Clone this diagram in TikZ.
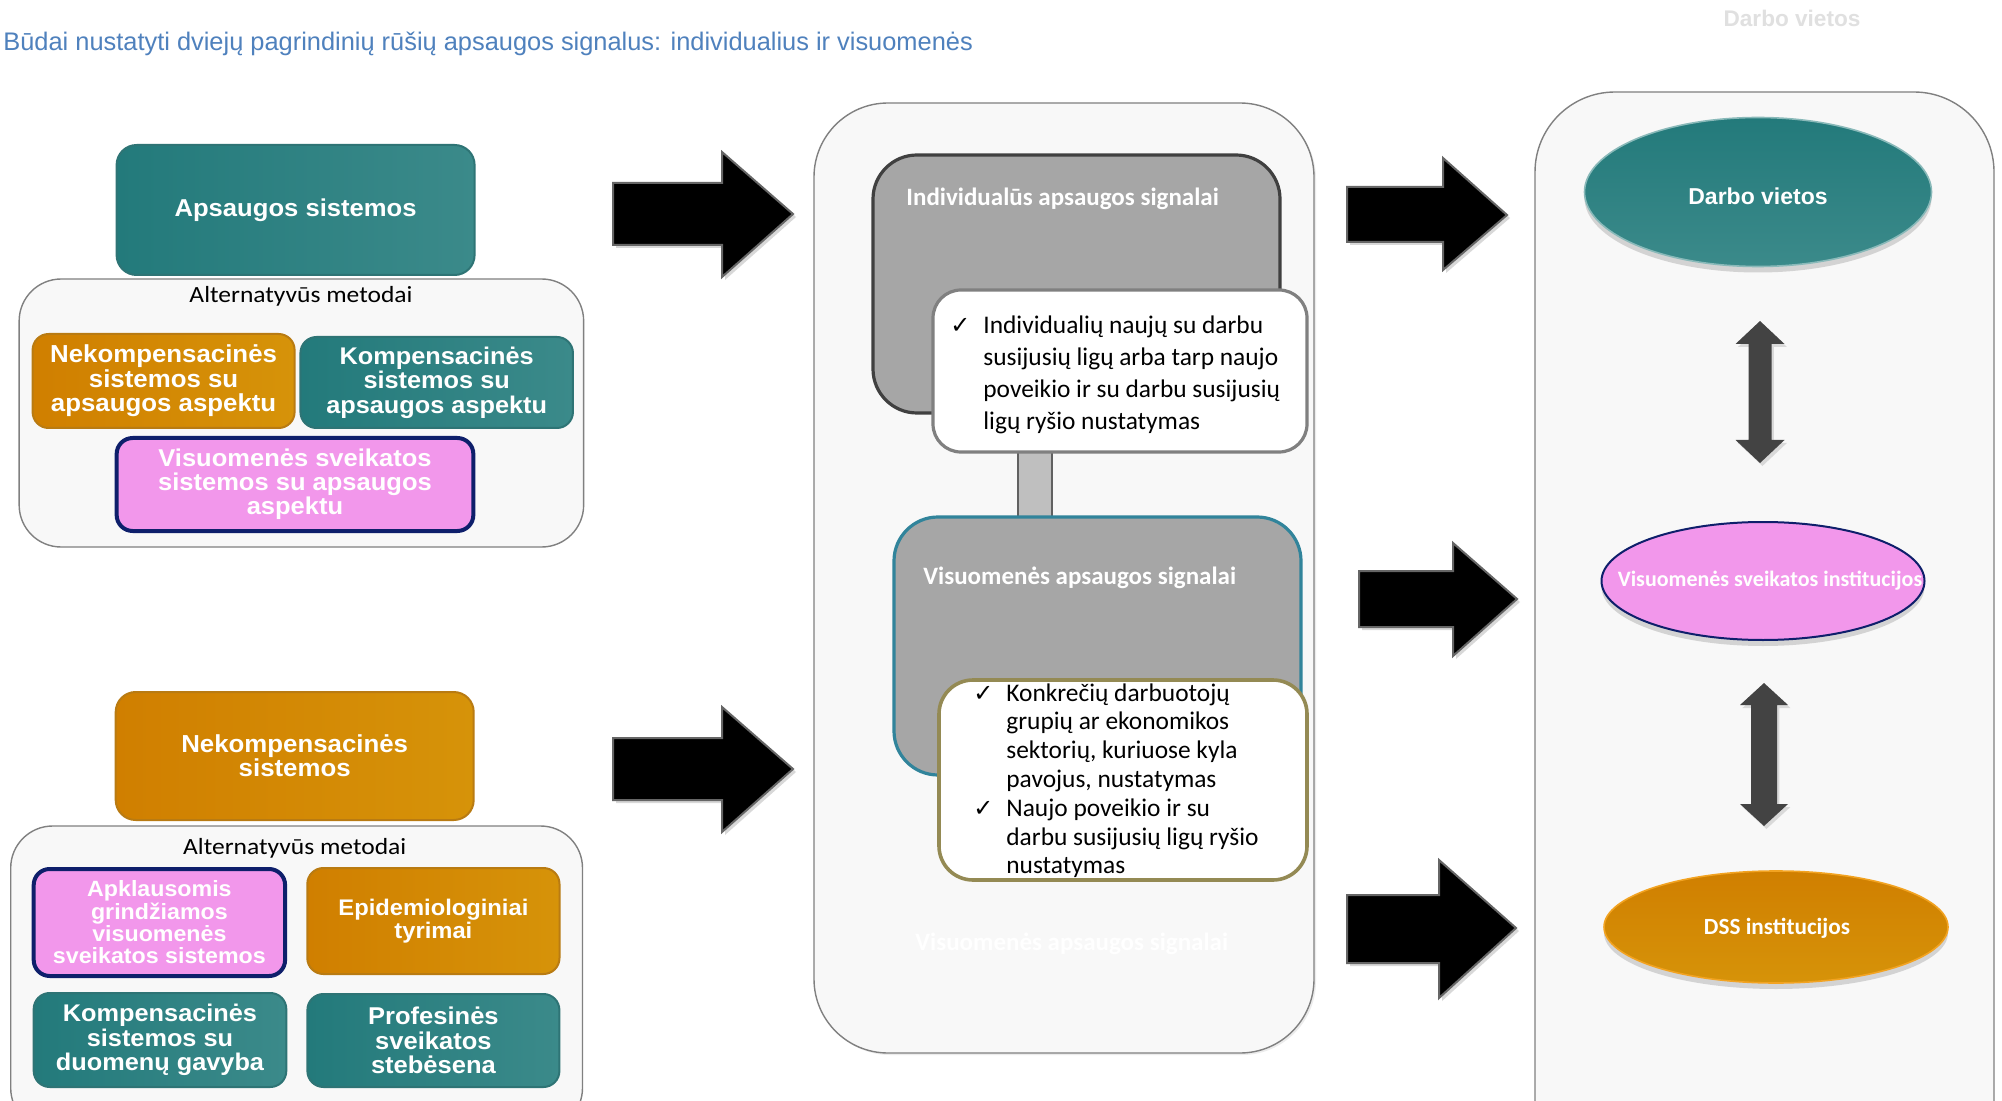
\documentclass[tikz,border=0pt]{standalone}
\usepackage{fontspec}
\setmainfont{Liberation Sans}
\newfontfamily\carl{Carlito}
\newfontfamily\wide[FakeStretch=1.05]{Liberation Sans}
\newfontfamily\carlw[FakeStretch=1.1]{Carlito}
\newfontfamily\djv{DejaVu Sans}
\usetikzlibrary{shapes.geometric,shadows,calc}
\definecolor{teal1}{HTML}{237A7B}
\definecolor{teal2}{HTML}{3B8A8A}
\definecolor{tealbd}{HTML}{2E7475}
\definecolor{or1}{HTML}{D07F00}
\definecolor{or2}{HTML}{D69309}
\definecolor{orbd}{HTML}{B97B12}
\definecolor{pink1}{HTML}{F297EB}
\definecolor{navy}{HTML}{0E1F6B}
\definecolor{cont}{HTML}{F8F8F8}
\definecolor{contbd}{HTML}{808080}
\definecolor{graybox}{HTML}{A6A6A6}
\definecolor{titleblue}{HTML}{4F81BD}
\definecolor{darkarrow}{HTML}{434343}
\definecolor{olive}{HTML}{948A54}
\definecolor{bluebd}{HTML}{31849B}
\definecolor{dssbd}{HTML}{F2A321}
\newcommand\chk{{\djv\fontsize{12}{12}\selectfont ✓}}
\begin{document}
\begin{tikzpicture}[x=0.5pt,y=-0.5pt,
  sz/.style 2 args={minimum width=#1*0.5pt, minimum height=#2*0.5pt},
  box/.style={rounded corners=8pt, inner sep=1pt, align=center, text=white,
    font=\wide\bfseries\fontsize{12.2}{12.4}\selectfont, line width=1pt},
  tealbox/.style={box, left color=teal1, right color=teal2, draw=tealbd},
  orbox/.style={box, left color=or1, right color=or2, draw=orbd},
  pinkbox/.style={box, fill=pink1, draw=navy, line width=2pt},
  container/.style={fill=cont, draw=contbd, line width=0.7pt},
  lbl/.style={inner sep=0, font=\carlw\fontsize{11.6}{13}\selectfont},
  hdr/.style={inner sep=0, text=white, font=\carl\bfseries\fontsize{12.5}{14}\selectfont},
  bigarrow/.style={fill=black, draw=black!60, line width=1pt,
    drop shadow={opacity=0.3, shadow xshift=1.5pt, shadow yshift=-1.5pt}},
  dblarrow/.style={fill=darkarrow, draw=none,
    drop shadow={opacity=0.25, shadow xshift=1.2pt, shadow yshift=-1.5pt}},
  eshadow/.style={drop shadow={opacity=0.3, shadow xshift=0pt, shadow yshift=-3pt}},
  etext/.style={inner sep=0, text=white}
]
\useasboundingbox (0,0) rectangle (2002,1101);
\clip (0,0) rectangle (2002,1101);
\fill[white] (0,0) rectangle (2002,1101);

% title
\node[anchor=base west, inner sep=0, text=titleblue, font=\fontsize{12.7}{14}\selectfont] (title) at (3,51)
  {Būdai nustatyti dviejų pagrindinių rūšių apsaugos signalus: individualius ir visuomenės};
\node[inner sep=0, text=black!12, font=\bfseries\fontsize{11.3}{13}\selectfont] (ghost1) at (1792,18) {Darbo vietos};

% left top group
\node[tealbox, rounded corners=10pt, sz={358}{130}, font=\wide\bfseries\fontsize{12.2}{12.4}\selectfont] (aps) at (295.6,210) {Apsaugos sistemos};
\node[container, rounded corners=21pt, sz={564.5}{268}] (alt1) at (301.4,413) {};
\node[lbl, anchor=base] (alt1t) at (301,303) {Alternatyvūs metodai};
\node[orbox, sz={262}{94}, font=\wide\bfseries\fontsize{12.3}{12.3}\selectfont] (nek1) at (163.6,381) {Nekompensacinės\\sistemos su\\apsaugos aspektu};
\node[tealbox, sz={272.5}{91}, font=\wide\bfseries\fontsize{12.05}{12.3}\selectfont] (kom1) at (436.7,382.5) {Kompensacinės\\sistemos su\\apsaugos aspektu};
\node[pinkbox, sz={356.7}{93}, font=\wide\bfseries\fontsize{12.15}{12.1}\selectfont] (vis1) at (295,484.5) {Visuomenės sveikatos\\sistemos su apsaugos\\aspektu};

% left bottom group
\node[orbox, rounded corners=10pt, sz={358}{128}, font=\wide\bfseries\fontsize{12.3}{12.2}\selectfont] (nek2) at (294.7,756) {Nekompensacinės\\sistemos};
\node[container, rounded corners=21pt, sz={571.8}{304}] (alt2) at (296.6,978) {};
\node[lbl, anchor=base] (alt2t) at (294.7,854) {Alternatyvūs metodai};
\node[pinkbox, sz={251.4}{107}, font=\wide\bfseries\fontsize{11.05}{11.15}\selectfont] (apk) at (159.4,922.5) {Apklausomis\\grindžiamos\\visuomenės\\sveikatos sistemos};
\node[orbox, sz={252.2}{106}, font=\wide\bfseries\fontsize{11.3}{11.6}\selectfont] (epi) at (433.4,921) {Epidemiologiniai\\tyrimai};
\node[tealbox, sz={252.6}{94}, font=\wide\bfseries\fontsize{12.05}{12.1}\selectfont] (kom2) at (160,1040) {Kompensacinės\\sistemos su\\duomenų gavyba};
\node[tealbox, sz={252}{93}, font=\wide\bfseries\fontsize{12.15}{12.1}\selectfont] (pro) at (433.4,1040.5) {Profesinės\\sveikatos\\stebėsena};

% middle group
\node[container, rounded corners=37pt, sz={500}{950},
  drop shadow={opacity=0.15, shadow xshift=1pt, shadow yshift=-1pt}] (mid) at (1064,578) {};
\node[fill=graybox, draw=black!75, line width=1.6pt, rounded corners=22pt, sz={407}{258}] (ind) at (1076.5,284) {};
\node[hdr, anchor=base west] (indt) at (906,206) {Individualūs apsaugos signalai};
\node[fill=black!25, draw=black!62, line width=1pt, sz={34}{70}] (link) at (1035,484) {};
\node[fill=white, draw=black!50, line width=1.6pt, rounded corners=14pt, sz={374}{162}] (call1) at (1120,371) {};
\node[anchor=base west, inner sep=0, font=\carl\fontsize{12.7}{15.85}\selectfont] (call1t) at (950,334)
  {\begin{tabular}[t]{@{}p{16.5pt}@{}l@{}}\chk & Individualių naujų su darbu\\ & susijusių ligų arba tarp naujo\\ & poveikio ir su darbu susijusių\\ & ligų ryšio nustatymas\end{tabular}};
\node[fill=graybox, draw=bluebd, line width=1.6pt, rounded corners=22pt, sz={407}{258}] (vis2) at (1097.5,646) {};
\node[hdr, anchor=base west] (vis2t) at (923,584) {Visuomenės apsaugos signalai};
\node[fill=white, draw=olive, line width=1.8pt, rounded corners=17pt, sz={368}{200}] (call2) at (1123,780) {};
\node[anchor=base west, inner sep=0, font=\carl\fontsize{12.7}{14.4}\selectfont] (call2t) at (973,701)
  {\begin{tabular}[t]{@{}p{16.5pt}@{}l@{}}\chk & Konkrečių darbuotojų\\ & grupių ar ekonomikos\\ & sektorių, kuriuose kyla\\ & pavojus, nustatymas\\ \chk & Naujo poveikio ir su\\ & darbu susijusių ligų ryšio\\ & nustatymas\end{tabular}};
\node[hdr, anchor=base west, text=white] (ghost2) at (915,950) {Visuomenės apsaugos signalai};

% right group
\node[container, rounded corners=40pt, sz={459}{1088}] (right) at (1764.5,636) {};
\node[ellipse, top color=teal1, bottom color=teal2, draw=teal2!60!white, line width=0.8pt, sz={347}{149}, eshadow] (e1) at (1758,192) {};
\node[etext, font=\bfseries\fontsize{11.5}{13}\selectfont] (e1t) at (1758,196) {Darbo vietos};
\node[ellipse, fill=pink1, draw=navy, line width=1pt, sz={323}{118}, eshadow] (e2) at (1763,581) {};
\node[etext, font=\carl\bfseries\fontsize{11}{13}\selectfont] (e2t) at (1770,581) {Visuomenės sveikatos institucijos};
\node[ellipse, top color=or1, bottom color=or2, draw=dssbd, line width=0.8pt, sz={344}{112}, eshadow] (e3) at (1776,927) {};
\node[etext, font=\carl\bfseries\fontsize{11.6}{13}\selectfont] (e3t) at (1777,928) {DSS institucijos};

% double arrows between ellipses
\begin{scope}[shift={(1760,392)}]
\draw[dblarrow] (0,-71) -- (24.5,-48) -- (11.5,-48) -- (11.5,48) -- (24.5,48) -- (0,71)
  -- (-24.5,48) -- (-11.5,48) -- (-11.5,-48) -- (-24.5,-48) -- cycle;
\end{scope}
\begin{scope}[shift={(1764,754.5)}]
\draw[dblarrow] (0,-71.5) -- (24,-49.5) -- (13,-49.5) -- (13,49.5) -- (24,49.5) -- (0,71.5)
  -- (-24,49.5) -- (-13,49.5) -- (-13,-49.5) -- (-24,-49.5) -- cycle;
\end{scope}

% big block arrows
\draw[bigarrow] (613,183) -- (722,183) -- (722,152) -- (793,214) -- (722,277) -- (722,245) -- (613,245) -- cycle;
\draw[bigarrow] (613,738) -- (722,738) -- (722,707) -- (793,769) -- (722,832) -- (722,800) -- (613,800) -- cycle;
\draw[bigarrow] (1347,187) -- (1443,187) -- (1443,158) -- (1507,215) -- (1443,270) -- (1443,242) -- (1347,242) -- cycle;
\draw[bigarrow] (1359,571) -- (1453,571) -- (1453,543) -- (1517,599) -- (1453,656) -- (1453,627) -- (1359,627) -- cycle;
\draw[bigarrow] (1347,895) -- (1439,895) -- (1439,860) -- (1516,928) -- (1439,998) -- (1439,963) -- (1347,963) -- cycle;
\end{tikzpicture}
\end{document}
